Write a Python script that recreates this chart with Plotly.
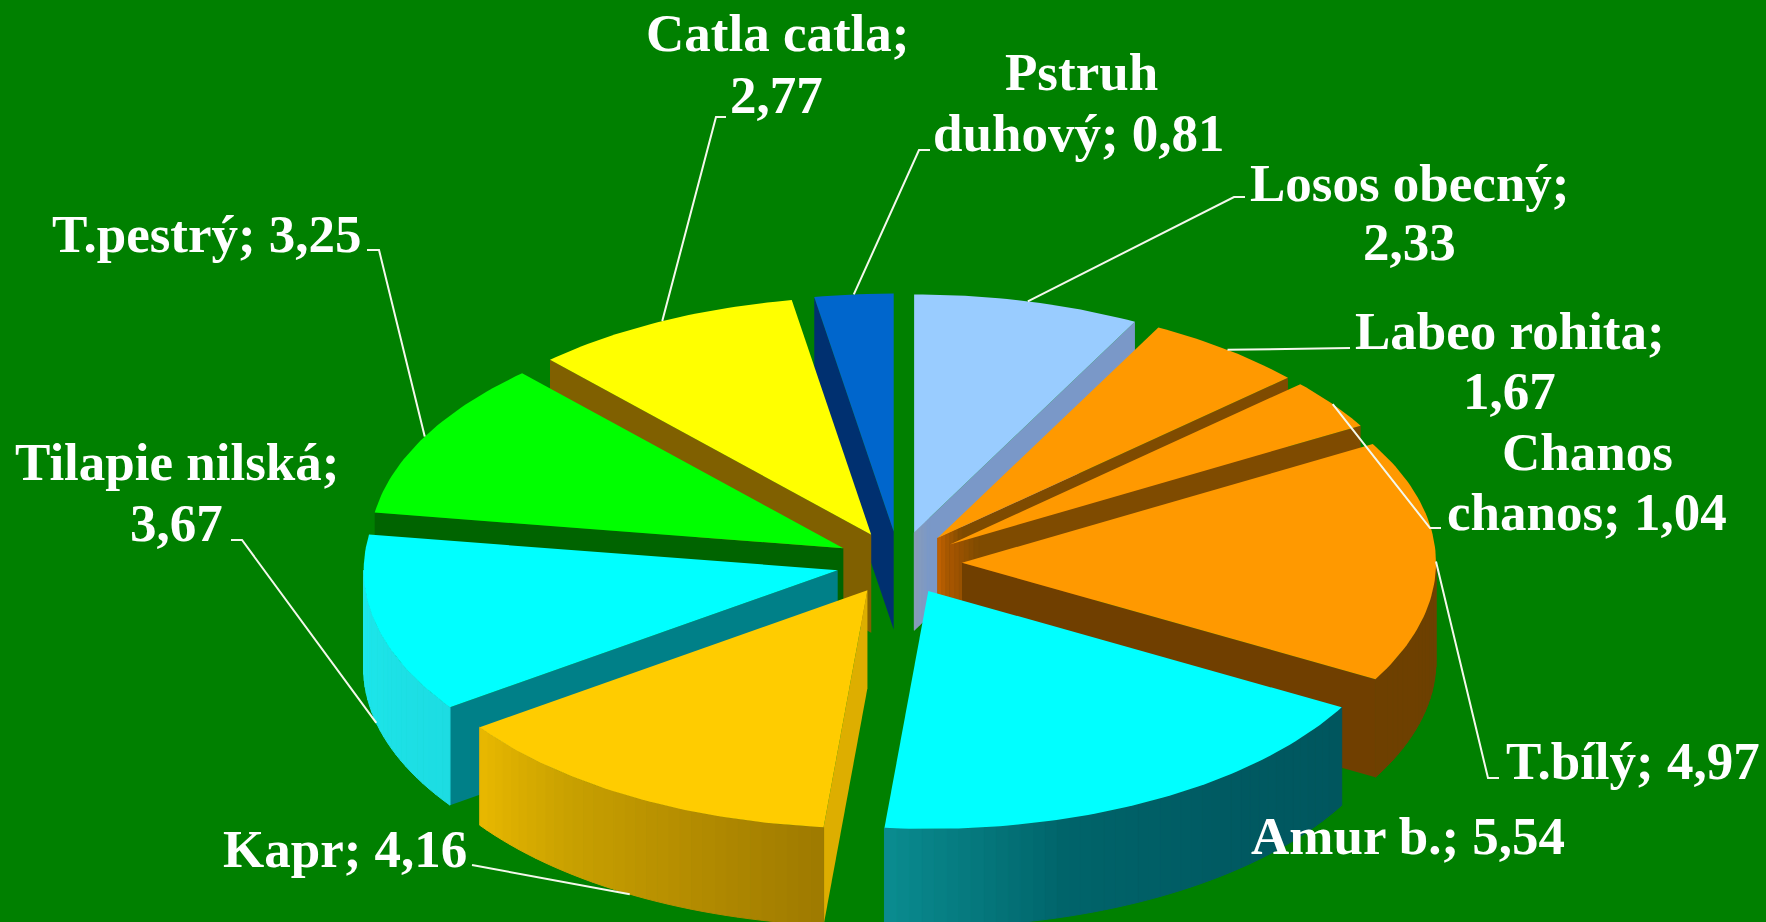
import math
import plotly.graph_objects as go

# Production of farmed fish species, in millions of tonnes
categories = ["Losos obecný", "Labeo rohita", "Chanos chanos", "T.bílý", "Amur b.",
              "Kapr", "Tilapie nilská", "T.pestrý", "Catla catla", "Pstruh duhový"]
values = [2.33, 1.67, 1.04, 4.97, 5.54, 4.16, 3.67, 3.25, 2.77, 0.81]

top_colors = ["#99CCFF", "#FF9900", "#FF9900", "#FF9900", "#00FFFF",
              "#FFCC00", "#00FFFF", "#00FF00", "#FFFF00", "#0066CC"]
side_colors = ["#7A98C8", "#7F4B00", "#7F4B00", "#703F00", "#008080",
               "#DDAE00", "#008088", "#006400", "#806000", "#003070"]
# Lighter tone of a flat wall close to the pie's centre
side_inner_colors = {
    "Losos obecný": "#8A9DB8",
    "Labeo rohita": "#C46200",
    "Chanos chanos": "#A85600",
}
# Colour ramps for the curved outer wall, running clockwise along the rim
rim_ramps = {
    "T.bílý": ["#6E4000", "#6E4000"],
    "Amur b.": ["#00565E", "#005A62", "#00646A", "#0A8C90"],
    "Kapr": ["#9E7A00", "#B48C00", "#C8A000", "#E8B800"],
    "Tilapie nilská": ["#1DDCE2", "#1DE8EC"],
}

# Label text lines, centre positions and leader elbows, in page pixels
label_lines = {
    "Losos obecný": [("Losos obecný;", 1410, 183), ("{v}", 1409, 242)],
    "Labeo rohita": [("Labeo rohita;", 1510, 331), ("{v}", 1509, 391)],
    "Chanos chanos": [("Chanos", 1587, 452), ("chanos; {v}", 1587, 512)],
    "T.bílý": [("T.bílý; {v}", 1633, 761)],
    "Amur b.": [("Amur b.; {v}", 1408, 836)],
    "Kapr": [("Kapr; {v}", 345, 849)],
    "Tilapie nilská": [("Tilapie nilská;", 177, 462), ("{v}", 176, 523)],
    "T.pestrý": [("T.pestrý; {v}", 207, 234)],
    "Catla catla": [("Catla catla;", 777, 33), ("{v}", 776, 95)],
    "Pstruh duhový": [("Pstruh", 1081, 72), ("duhový; {v}", 1079, 133)],
}
leader_elbows = {
    "Losos obecný": [(1234, 197), (1245, 197)],
    "Labeo rohita": [(1350, 348)],
    "Chanos chanos": [(1430, 528), (1441, 528)],
    "T.bílý": [(1488, 778), (1499, 778)],
    "Kapr": [(476, 865), (472, 865)],
    "Tilapie nilská": [(242, 540), (231, 540)],
    "T.pestrý": [(379, 250), (367, 250)],
    "Catla catla": [(716, 117), (726, 117)],
    "Pstruh duhový": [(919, 150), (930, 150)],
}
leader_on_base = {"Kapr", "Tilapie nilská"}

# Projection of the tilted pie onto the page
CX, CY = 899, 563
RX, RY = 474, 238
EXPLODE = 63
EXPLODE_Y = 31.5
DEPTH = 98
FONT_SIZE = 53
INNER_SPAN = 0.07


def hex_rgb(c):
    return tuple(int(c[i:i + 2], 16) for i in (1, 3, 5))


def ramp_color(stops, t):
    pos = t * (len(stops) - 1)
    i = min(int(pos), len(stops) - 2)
    f = pos - i
    a, b = hex_rgb(stops[i]), hex_rgb(stops[i + 1])
    return "rgb(%d,%d,%d)" % tuple(round(a[k] + (b[k] - a[k]) * f) for k in range(3))


def polygon(points, color, seam=0.0):
    return go.Scatter(
        x=[p[0] for p in points], y=[p[1] for p in points],
        mode="lines", fill="toself", fillcolor=color,
        line=dict(color=color, width=seam), hoverinfo="skip", showlegend=False,
    )


total = sum(values)
slices = []
start = 0.0
for name, value, top, side in zip(categories, values, top_colors, side_colors):
    sweep = value / total * 360
    slices.append(dict(name=name, value=value, top=top, side=side,
                       a0=start, a1=start + sweep, mid=start + sweep / 2))
    start += sweep


def apex(s):
    m = math.radians(s["mid"])
    return CX + EXPLODE * math.sin(m), CY - EXPLODE_Y * math.cos(m)


def rim(s, deg):
    ax, ay = apex(s)
    r = math.radians(deg)
    return ax + RX * math.sin(r), ay - RY * math.cos(r)


def down(p):
    return p[0], p[1] + DEPTH


def along(a, b, t):
    return a[0] + (b[0] - a[0]) * t, a[1] + (b[1] - a[1]) * t


def add_flat_wall(fig, s, edge):
    a = apex(s)
    p = rim(s, edge)
    fig.add_trace(polygon([a, p, down(p), down(a), a], s["side"]))
    inner = side_inner_colors.get(s["name"])
    if inner:
        n = 6
        for i in range(n):
            q0 = along(a, p, INNER_SPAN * i / n)
            q1 = along(a, p, INNER_SPAN * (i + 1) / n)
            color = ramp_color([inner, s["side"]], (i + 0.5) / n)
            fig.add_trace(polygon([q0, q1, down(q1), down(q0), q0], color, 0.5))


fig = go.Figure()

# Painter's order: slices at the back of the pie first
for s in sorted(slices, key=lambda q: -math.cos(math.radians(q["mid"]))):
    a = apex(s)
    if math.sin(math.radians(s["a1"])) > 0:
        add_flat_wall(fig, s, s["a1"])
    if math.sin(math.radians(s["a0"])) < 0:
        add_flat_wall(fig, s, s["a0"])
    lo, hi = max(s["a0"], 90), min(s["a1"], 270)
    if lo < hi:
        stops = rim_ramps.get(s["name"], [s["side"], s["side"]])
        n = max(2, int((hi - lo) / 1.5))
        for i in range(n):
            d0 = lo + (hi - lo) * i / n
            d1 = lo + (hi - lo) * (i + 1) / n
            arc = [rim(s, d0), rim(s, (d0 + d1) / 2), rim(s, d1)]
            pts = arc + [down(q) for q in reversed(arc)] + [arc[0]]
            fig.add_trace(polygon(pts, ramp_color(stops, (i + 0.5) / n), 1))
    steps = max(6, int((s["a1"] - s["a0"]) / 1.0))
    outline = [a] + [rim(s, s["a0"] + (s["a1"] - s["a0"]) * i / steps)
                     for i in range(steps + 1)] + [a]
    fig.add_trace(polygon(outline, s["top"]))

# Leader lines run from the middle of each slice's rim to its label
for s in slices:
    if s["name"] in leader_elbows:
        p = rim(s, s["mid"])
        if s["name"] in leader_on_base:
            p = down(p)
        path = [p] + leader_elbows[s["name"]]
        fig.add_trace(go.Scatter(x=[q[0] for q in path], y=[q[1] for q in path],
                                 mode="lines", line=dict(color="#F4F8EC", width=2),
                                 hoverinfo="skip", showlegend=False))

annotations = []
for s in slices:
    shown = f"{s['value']:.2f}".replace(".", ",")
    for text, x, y in label_lines[s["name"]]:
        annotations.append(dict(
            x=x, y=y, xref="x", yref="y", text=text.format(v=shown), showarrow=False,
            xanchor="center", yanchor="middle",
            font=dict(family="Liberation Serif", size=FONT_SIZE, color="#FFFFFF", weight="bold"),
        ))

fig.update_layout(
    width=1766, height=922, margin=dict(l=0, r=0, t=0, b=0),
    paper_bgcolor="#008000", plot_bgcolor="#008000", showlegend=False,
    xaxis=dict(range=[0, 1766], visible=False, fixedrange=True),
    yaxis=dict(range=[922, 0], visible=False, fixedrange=True),
    annotations=annotations,
)
fig.write_html("out.html", config={"displayModeBar": False})
